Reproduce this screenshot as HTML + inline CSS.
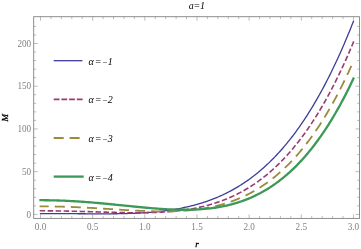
<!DOCTYPE html>
<html><head><meta charset="utf-8"><style>
html,body{margin:0;padding:0;background:#fff;}
body{width:361px;height:249px;overflow:hidden;position:relative;font-family:"Liberation Serif",serif;}
</style></head><body>
<svg width="361" height="249" viewBox="0 0 361 249" style="position:absolute;left:0;top:0;will-change:transform">
<rect x="33.7" y="16.7" width="325.8" height="201.70000000000002" fill="none" stroke="#828282" stroke-width="0.9"/>
<path d="M40.50,218.4v-4.0M40.50,16.7v4.0M50.93,218.4v-2.4M50.93,16.7v2.4M61.36,218.4v-2.4M61.36,16.7v2.4M71.80,218.4v-2.4M71.80,16.7v2.4M82.23,218.4v-2.4M82.23,16.7v2.4M92.66,218.4v-4.0M92.66,16.7v4.0M103.09,218.4v-2.4M103.09,16.7v2.4M113.52,218.4v-2.4M113.52,16.7v2.4M123.95,218.4v-2.4M123.95,16.7v2.4M134.38,218.4v-2.4M134.38,16.7v2.4M144.82,218.4v-4.0M144.82,16.7v4.0M155.25,218.4v-2.4M155.25,16.7v2.4M165.68,218.4v-2.4M165.68,16.7v2.4M176.11,218.4v-2.4M176.11,16.7v2.4M186.54,218.4v-2.4M186.54,16.7v2.4M196.97,218.4v-4.0M196.97,16.7v4.0M207.41,218.4v-2.4M207.41,16.7v2.4M217.84,218.4v-2.4M217.84,16.7v2.4M228.27,218.4v-2.4M228.27,16.7v2.4M238.70,218.4v-2.4M238.70,16.7v2.4M249.13,218.4v-4.0M249.13,16.7v4.0M259.57,218.4v-2.4M259.57,16.7v2.4M270.00,218.4v-2.4M270.00,16.7v2.4M280.43,218.4v-2.4M280.43,16.7v2.4M290.86,218.4v-2.4M290.86,16.7v2.4M301.29,218.4v-4.0M301.29,16.7v4.0M311.72,218.4v-2.4M311.72,16.7v2.4M322.16,218.4v-2.4M322.16,16.7v2.4M332.59,218.4v-2.4M332.59,16.7v2.4M343.02,218.4v-2.4M343.02,16.7v2.4M353.45,218.4v-4.0M353.45,16.7v4.0M33.7,214.40h4.0M359.5,214.40h-4.0M33.7,205.86h2.4M359.5,205.86h-2.4M33.7,197.31h2.4M359.5,197.31h-2.4M33.7,188.77h2.4M359.5,188.77h-2.4M33.7,180.22h2.4M359.5,180.22h-2.4M33.7,171.68h4.0M359.5,171.68h-4.0M33.7,163.13h2.4M359.5,163.13h-2.4M33.7,154.59h2.4M359.5,154.59h-2.4M33.7,146.04h2.4M359.5,146.04h-2.4M33.7,137.50h2.4M359.5,137.50h-2.4M33.7,128.95h4.0M359.5,128.95h-4.0M33.7,120.41h2.4M359.5,120.41h-2.4M33.7,111.86h2.4M359.5,111.86h-2.4M33.7,103.32h2.4M359.5,103.32h-2.4M33.7,94.77h2.4M359.5,94.77h-2.4M33.7,86.22h4.0M359.5,86.22h-4.0M33.7,77.68h2.4M359.5,77.68h-2.4M33.7,69.14h2.4M359.5,69.14h-2.4M33.7,60.59h2.4M359.5,60.59h-2.4M33.7,52.05h2.4M359.5,52.05h-2.4M33.7,43.50h4.0M359.5,43.50h-4.0M33.7,34.96h2.4M359.5,34.96h-2.4M33.7,26.41h2.4M359.5,26.41h-2.4" stroke="#858585" stroke-width="0.55" fill="none"/>
<path d="M39.85,213.55 L40.50,213.55 L41.81,213.55 L43.12,213.55 L44.43,213.55 L45.74,213.55 L47.05,213.55 L48.36,213.56 L49.67,213.56 L50.98,213.56 L52.28,213.57 L53.59,213.57 L54.90,213.58 L56.21,213.58 L57.52,213.59 L58.83,213.60 L60.14,213.60 L61.45,213.61 L62.76,213.62 L64.07,213.63 L65.38,213.63 L66.69,213.64 L68.00,213.65 L69.31,213.66 L70.62,213.67 L71.93,213.68 L73.24,213.69 L74.54,213.70 L75.85,213.71 L77.16,213.72 L78.47,213.73 L79.78,213.74 L81.09,213.75 L82.40,213.75 L83.71,213.76 L85.02,213.77 L86.33,213.78 L87.64,213.79 L88.95,213.79 L90.26,213.80 L91.57,213.81 L92.88,213.81 L94.19,213.82 L95.50,213.82 L96.80,213.83 L98.11,213.83 L99.42,213.83 L100.73,213.83 L102.04,213.83 L103.35,213.83 L104.66,213.83 L105.97,213.82 L107.28,213.82 L108.59,213.81 L109.90,213.80 L111.21,213.79 L112.52,213.78 L113.83,213.76 L115.14,213.75 L116.45,213.73 L117.76,213.71 L119.06,213.69 L120.37,213.67 L121.68,213.64 L122.99,213.61 L124.30,213.58 L125.61,213.55 L126.92,213.51 L128.23,213.47 L129.54,213.43 L130.85,213.38 L132.16,213.34 L133.47,213.29 L134.78,213.23 L136.09,213.17 L137.40,213.11 L138.71,213.05 L140.02,212.98 L141.32,212.90 L142.63,212.83 L143.94,212.75 L145.25,212.66 L146.56,212.57 L147.87,212.48 L149.18,212.38 L150.49,212.28 L151.80,212.17 L153.11,212.06 L154.42,211.94 L155.73,211.81 L157.04,211.69 L158.35,211.55 L159.66,211.41 L160.97,211.27 L162.28,211.11 L163.58,210.96 L164.89,210.79 L166.20,210.62 L167.51,210.45 L168.82,210.26 L170.13,210.07 L171.44,209.87 L172.75,209.67 L174.06,209.46 L175.37,209.24 L176.68,209.01 L177.99,208.78 L179.30,208.54 L180.61,208.29 L181.92,208.03 L183.23,207.76 L184.54,207.49 L185.84,207.20 L187.15,206.91 L188.46,206.61 L189.77,206.30 L191.08,205.98 L192.39,205.65 L193.70,205.31 L195.01,204.96 L196.32,204.60 L197.63,204.23 L198.94,203.85 L200.25,203.46 L201.56,203.05 L202.87,202.64 L204.18,202.22 L205.49,201.78 L206.80,201.33 L208.11,200.87 L209.41,200.40 L210.72,199.92 L212.03,199.42 L213.34,198.92 L214.65,198.40 L215.96,197.86 L217.27,197.32 L218.58,196.75 L219.89,196.18 L221.20,195.59 L222.51,194.99 L223.82,194.38 L225.13,193.75 L226.44,193.10 L227.75,192.44 L229.06,191.77 L230.37,191.08 L231.67,190.37 L232.98,189.65 L234.29,188.91 L235.60,188.16 L236.91,187.39 L238.22,186.60 L239.53,185.80 L240.84,184.98 L242.15,184.14 L243.46,183.28 L244.77,182.41 L246.08,181.52 L247.39,180.61 L248.70,179.68 L250.01,178.73 L251.32,177.77 L252.63,176.78 L253.93,175.78 L255.24,174.75 L256.55,173.71 L257.86,172.64 L259.17,171.56 L260.48,170.45 L261.79,169.32 L263.10,168.18 L264.41,167.01 L265.72,165.81 L267.03,164.60 L268.34,163.36 L269.65,162.11 L270.96,160.82 L272.27,159.52 L273.58,158.19 L274.89,156.84 L276.19,155.46 L277.50,154.06 L278.81,152.64 L280.12,151.19 L281.43,149.72 L282.74,148.22 L284.05,146.69 L285.36,145.14 L286.67,143.56 L287.98,141.96 L289.29,140.33 L290.60,138.67 L291.91,136.99 L293.22,135.28 L294.53,133.54 L295.84,131.77 L297.15,129.97 L298.45,128.15 L299.76,126.29 L301.07,124.41 L302.38,122.49 L303.69,120.55 L305.00,118.58 L306.31,116.57 L307.62,114.53 L308.93,112.47 L310.24,110.37 L311.55,108.24 L312.86,106.08 L314.17,103.88 L315.48,101.65 L316.79,99.39 L318.10,97.10 L319.41,94.77 L320.71,92.41 L322.02,90.01 L323.33,87.58 L324.64,85.11 L325.95,82.61 L327.26,80.07 L328.57,77.50 L329.88,74.89 L331.19,72.24 L332.50,69.56 L333.81,66.84 L335.12,64.08 L336.43,61.28 L337.74,58.44 L339.05,55.57 L340.36,52.65 L341.67,49.70 L342.97,46.71 L344.28,43.67 L345.59,40.60 L346.90,37.48 L348.21,34.33 L349.52,31.13 L350.83,27.89 L352.14,24.61 L353.45,21.28 L353.69,20.68" stroke="#3d3d99" stroke-width="1.3" fill="none"/>
<path d="M39.70,210.81 L40.50,210.81 L41.81,210.81 L43.12,210.81 L44.43,210.82 L45.74,210.82 L47.05,210.83 L48.36,210.84 L49.67,210.85 L50.98,210.86 L52.28,210.87 L53.59,210.88 L54.90,210.90 L56.21,210.91 L57.52,210.93 L58.83,210.95 L60.14,210.97 L61.45,210.99 L62.76,211.01 L64.07,211.03 L65.38,211.06 L66.69,211.08 L68.00,211.11 L69.31,211.14 L70.62,211.17 L71.93,211.20 L73.24,211.23 L74.54,211.26 L75.85,211.29 L77.16,211.32 L78.47,211.36 L79.78,211.39 L81.09,211.43 L82.40,211.46 L83.71,211.50 L85.02,211.54 L86.33,211.58 L87.64,211.62 L88.95,211.65 L90.26,211.69 L91.57,211.73 L92.88,211.77 L94.19,211.81 L95.50,211.85 L96.80,211.89 L98.11,211.93 L99.42,211.97 L100.73,212.01 L102.04,212.05 L103.35,212.09 L104.66,212.13 L105.97,212.17 L107.28,212.21 L108.59,212.25 L109.90,212.28 L111.21,212.32 L112.52,212.35 L113.83,212.39 L115.14,212.42 L116.45,212.45 L117.76,212.48 L119.06,212.51 L120.37,212.54 L121.68,212.57 L122.99,212.60 L124.30,212.62 L125.61,212.64 L126.92,212.66 L128.23,212.68 L129.54,212.70 L130.85,212.71 L132.16,212.72 L133.47,212.73 L134.78,212.74 L136.09,212.74 L137.40,212.74 L138.71,212.74 L140.02,212.74 L141.32,212.73 L142.63,212.72 L143.94,212.71 L145.25,212.69 L146.56,212.67 L147.87,212.65 L149.18,212.62 L150.49,212.59 L151.80,212.55 L153.11,212.51 L154.42,212.47 L155.73,212.42 L157.04,212.37 L158.35,212.31 L159.66,212.25 L160.97,212.18 L162.28,212.11 L163.58,212.03 L164.89,211.95 L166.20,211.86 L167.51,211.76 L168.82,211.66 L170.13,211.56 L171.44,211.45 L172.75,211.33 L174.06,211.20 L175.37,211.07 L176.68,210.93 L177.99,210.79 L179.30,210.63 L180.61,210.48 L181.92,210.31 L183.23,210.13 L184.54,209.95 L185.84,209.76 L187.15,209.56 L188.46,209.36 L189.77,209.14 L191.08,208.92 L192.39,208.69 L193.70,208.45 L195.01,208.20 L196.32,207.94 L197.63,207.67 L198.94,207.39 L200.25,207.10 L201.56,206.80 L202.87,206.49 L204.18,206.18 L205.49,205.85 L206.80,205.51 L208.11,205.15 L209.41,204.79 L210.72,204.42 L212.03,204.03 L213.34,203.63 L214.65,203.23 L215.96,202.80 L217.27,202.37 L218.58,201.92 L219.89,201.46 L221.20,200.99 L222.51,200.51 L223.82,200.01 L225.13,199.49 L226.44,198.97 L227.75,198.43 L229.06,197.87 L230.37,197.30 L231.67,196.72 L232.98,196.12 L234.29,195.51 L235.60,194.88 L236.91,194.23 L238.22,193.57 L239.53,192.89 L240.84,192.20 L242.15,191.49 L243.46,190.76 L244.77,190.02 L246.08,189.26 L247.39,188.48 L248.70,187.68 L250.01,186.87 L251.32,186.03 L252.63,185.18 L253.93,184.31 L255.24,183.42 L256.55,182.51 L257.86,181.58 L259.17,180.64 L260.48,179.67 L261.79,178.68 L263.10,177.67 L264.41,176.64 L265.72,175.59 L267.03,174.52 L268.34,173.43 L269.65,172.31 L270.96,171.17 L272.27,170.01 L273.58,168.83 L274.89,167.63 L276.19,166.40 L277.50,165.15 L278.81,163.87 L280.12,162.57 L281.43,161.25 L282.74,159.90 L284.05,158.52 L285.36,157.13 L286.67,155.70 L287.98,154.25 L289.29,152.77 L290.60,151.27 L291.91,149.74 L293.22,148.19 L294.53,146.60 L295.84,144.99 L297.15,143.35 L298.45,141.69 L299.76,139.99 L301.07,138.27 L302.38,136.52 L303.69,134.73 L305.00,132.92 L306.31,131.08 L307.62,129.21 L308.93,127.31 L310.24,125.37 L311.55,123.41 L312.86,121.41 L314.17,119.38 L315.48,117.32 L316.79,115.23 L318.10,113.11 L319.41,110.95 L320.71,108.76 L322.02,106.53 L323.33,104.27 L324.64,101.98 L325.95,99.65 L327.26,97.28 L328.57,94.88 L329.88,92.45 L331.19,89.98 L332.50,87.47 L333.81,84.92 L335.12,82.34 L336.43,79.72 L337.74,77.07 L339.05,74.37 L340.36,71.64 L341.67,68.86 L342.97,66.05 L344.28,63.20 L345.59,60.31 L346.90,57.38 L348.21,54.40 L349.52,51.39 L350.83,48.33 L352.14,45.24 L353.45,42.10 L353.76,41.36" stroke="#993d71" stroke-width="1.6" fill="none" stroke-dasharray="5.5 2.48" stroke-dashoffset="0"/>
<path d="M39.60,206.37 L40.50,206.37 L41.81,206.37 L43.12,206.37 L44.43,206.38 L45.74,206.39 L47.05,206.40 L48.36,206.41 L49.67,206.42 L50.98,206.44 L52.28,206.46 L53.59,206.48 L54.90,206.50 L56.21,206.53 L57.52,206.56 L58.83,206.59 L60.14,206.62 L61.45,206.65 L62.76,206.69 L64.07,206.73 L65.38,206.77 L66.69,206.81 L68.00,206.86 L69.31,206.90 L70.62,206.95 L71.93,207.00 L73.24,207.05 L74.54,207.11 L75.85,207.16 L77.16,207.22 L78.47,207.28 L79.78,207.34 L81.09,207.40 L82.40,207.47 L83.71,207.53 L85.02,207.60 L86.33,207.67 L87.64,207.73 L88.95,207.81 L90.26,207.88 L91.57,207.95 L92.88,208.02 L94.19,208.10 L95.50,208.18 L96.80,208.25 L98.11,208.33 L99.42,208.41 L100.73,208.49 L102.04,208.57 L103.35,208.65 L104.66,208.73 L105.97,208.81 L107.28,208.89 L108.59,208.97 L109.90,209.06 L111.21,209.14 L112.52,209.22 L113.83,209.30 L115.14,209.39 L116.45,209.47 L117.76,209.55 L119.06,209.63 L120.37,209.71 L121.68,209.79 L122.99,209.87 L124.30,209.95 L125.61,210.03 L126.92,210.10 L128.23,210.18 L129.54,210.25 L130.85,210.33 L132.16,210.40 L133.47,210.47 L134.78,210.54 L136.09,210.60 L137.40,210.67 L138.71,210.73 L140.02,210.79 L141.32,210.85 L142.63,210.91 L143.94,210.96 L145.25,211.01 L146.56,211.06 L147.87,211.11 L149.18,211.15 L150.49,211.19 L151.80,211.23 L153.11,211.26 L154.42,211.29 L155.73,211.32 L157.04,211.34 L158.35,211.36 L159.66,211.38 L160.97,211.39 L162.28,211.39 L163.58,211.40 L164.89,211.39 L166.20,211.39 L167.51,211.37 L168.82,211.36 L170.13,211.34 L171.44,211.31 L172.75,211.28 L174.06,211.24 L175.37,211.19 L176.68,211.14 L177.99,211.09 L179.30,211.02 L180.61,210.96 L181.92,210.88 L183.23,210.80 L184.54,210.71 L185.84,210.61 L187.15,210.51 L188.46,210.40 L189.77,210.28 L191.08,210.15 L192.39,210.02 L193.70,209.88 L195.01,209.73 L196.32,209.57 L197.63,209.40 L198.94,209.22 L200.25,209.04 L201.56,208.84 L202.87,208.64 L204.18,208.43 L205.49,208.20 L206.80,207.97 L208.11,207.72 L209.41,207.47 L210.72,207.21 L212.03,206.93 L213.34,206.64 L214.65,206.35 L215.96,206.04 L217.27,205.72 L218.58,205.38 L219.89,205.04 L221.20,204.68 L222.51,204.31 L223.82,203.93 L225.13,203.54 L226.44,203.13 L227.75,202.71 L229.06,202.27 L230.37,201.82 L231.67,201.36 L232.98,200.88 L234.29,200.39 L235.60,199.89 L236.91,199.37 L238.22,198.83 L239.53,198.28 L240.84,197.71 L242.15,197.13 L243.46,196.53 L244.77,195.92 L246.08,195.29 L247.39,194.64 L248.70,193.97 L250.01,193.29 L251.32,192.59 L252.63,191.87 L253.93,191.14 L255.24,190.38 L256.55,189.61 L257.86,188.82 L259.17,188.01 L260.48,187.18 L261.79,186.33 L263.10,185.46 L264.41,184.57 L265.72,183.66 L267.03,182.73 L268.34,181.78 L269.65,180.81 L270.96,179.82 L272.27,178.80 L273.58,177.77 L274.89,176.71 L276.19,175.62 L277.50,174.52 L278.81,173.39 L280.12,172.24 L281.43,171.07 L282.74,169.87 L284.05,168.65 L285.36,167.40 L286.67,166.13 L287.98,164.83 L289.29,163.51 L290.60,162.16 L291.91,160.79 L293.22,159.39 L294.53,157.96 L295.84,156.51 L297.15,155.03 L298.45,153.52 L299.76,151.99 L301.07,150.42 L302.38,148.83 L303.69,147.21 L305.00,145.56 L306.31,143.88 L307.62,142.17 L308.93,140.44 L310.24,138.67 L311.55,136.87 L312.86,135.04 L314.17,133.18 L315.48,131.29 L316.79,129.36 L318.10,127.41 L319.41,125.42 L320.71,123.40 L322.02,121.34 L323.33,119.25 L324.64,117.13 L325.95,114.97 L327.26,112.78 L328.57,110.56 L329.88,108.30 L331.19,106.00 L332.50,103.67 L333.81,101.30 L335.12,98.90 L336.43,96.46 L337.74,93.98 L339.05,91.46 L340.36,88.91 L341.67,86.32 L342.97,83.69 L344.28,81.02 L345.59,78.31 L346.90,75.56 L348.21,72.77 L349.52,69.94 L350.83,67.07 L352.14,64.16 L353.45,61.21 L353.81,60.38" stroke="#998c3d" stroke-width="1.8" fill="none" stroke-dasharray="10 6.09" stroke-dashoffset="0.9"/>
<path d="M39.35,200.22 L40.50,200.22 L41.81,200.22 L43.12,200.22 L44.43,200.23 L45.74,200.24 L47.05,200.25 L48.36,200.27 L49.67,200.29 L50.98,200.32 L52.28,200.34 L53.59,200.37 L54.90,200.40 L56.21,200.44 L57.52,200.48 L58.83,200.52 L60.14,200.57 L61.45,200.61 L62.76,200.66 L64.07,200.72 L65.38,200.77 L66.69,200.83 L68.00,200.90 L69.31,200.96 L70.62,201.03 L71.93,201.10 L73.24,201.17 L74.54,201.25 L75.85,201.33 L77.16,201.41 L78.47,201.49 L79.78,201.58 L81.09,201.67 L82.40,201.76 L83.71,201.85 L85.02,201.95 L86.33,202.04 L87.64,202.14 L88.95,202.25 L90.26,202.35 L91.57,202.46 L92.88,202.57 L94.19,202.68 L95.50,202.79 L96.80,202.90 L98.11,203.02 L99.42,203.13 L100.73,203.25 L102.04,203.37 L103.35,203.49 L104.66,203.62 L105.97,203.74 L107.28,203.87 L108.59,203.99 L109.90,204.12 L111.21,204.25 L112.52,204.38 L113.83,204.51 L115.14,204.64 L116.45,204.77 L117.76,204.90 L119.06,205.04 L120.37,205.17 L121.68,205.30 L122.99,205.44 L124.30,205.57 L125.61,205.70 L126.92,205.84 L128.23,205.97 L129.54,206.10 L130.85,206.23 L132.16,206.37 L133.47,206.50 L134.78,206.63 L136.09,206.76 L137.40,206.88 L138.71,207.01 L140.02,207.14 L141.32,207.26 L142.63,207.38 L143.94,207.51 L145.25,207.63 L146.56,207.74 L147.87,207.86 L149.18,207.97 L150.49,208.09 L151.80,208.20 L153.11,208.30 L154.42,208.41 L155.73,208.51 L157.04,208.61 L158.35,208.70 L159.66,208.79 L160.97,208.88 L162.28,208.97 L163.58,209.05 L164.89,209.13 L166.20,209.20 L167.51,209.28 L168.82,209.34 L170.13,209.40 L171.44,209.46 L172.75,209.51 L174.06,209.56 L175.37,209.61 L176.68,209.64 L177.99,209.68 L179.30,209.70 L180.61,209.73 L181.92,209.74 L183.23,209.75 L184.54,209.76 L185.84,209.75 L187.15,209.75 L188.46,209.73 L189.77,209.71 L191.08,209.68 L192.39,209.64 L193.70,209.60 L195.01,209.55 L196.32,209.49 L197.63,209.42 L198.94,209.35 L200.25,209.27 L201.56,209.18 L202.87,209.08 L204.18,208.97 L205.49,208.85 L206.80,208.72 L208.11,208.59 L209.41,208.44 L210.72,208.28 L212.03,208.12 L213.34,207.94 L214.65,207.76 L215.96,207.56 L217.27,207.35 L218.58,207.13 L219.89,206.90 L221.20,206.66 L222.51,206.41 L223.82,206.14 L225.13,205.87 L226.44,205.58 L227.75,205.28 L229.06,204.96 L230.37,204.63 L231.67,204.29 L232.98,203.94 L234.29,203.57 L235.60,203.19 L236.91,202.79 L238.22,202.38 L239.53,201.96 L240.84,201.52 L242.15,201.06 L243.46,200.59 L244.77,200.11 L246.08,199.61 L247.39,199.09 L248.70,198.56 L250.01,198.01 L251.32,197.44 L252.63,196.85 L253.93,196.25 L255.24,195.63 L256.55,195.00 L257.86,194.34 L259.17,193.67 L260.48,192.98 L261.79,192.27 L263.10,191.54 L264.41,190.79 L265.72,190.02 L267.03,189.24 L268.34,188.43 L269.65,187.60 L270.96,186.75 L272.27,185.88 L273.58,184.99 L274.89,184.08 L276.19,183.14 L277.50,182.18 L278.81,181.21 L280.12,180.20 L281.43,179.18 L282.74,178.13 L284.05,177.06 L285.36,175.97 L286.67,174.85 L287.98,173.70 L289.29,172.54 L290.60,171.34 L291.91,170.12 L293.22,168.88 L294.53,167.61 L295.84,166.32 L297.15,164.99 L298.45,163.65 L299.76,162.27 L301.07,160.87 L302.38,159.44 L303.69,157.98 L305.00,156.49 L306.31,154.97 L307.62,153.43 L308.93,151.86 L310.24,150.25 L311.55,148.62 L312.86,146.96 L314.17,145.26 L315.48,143.54 L316.79,141.78 L318.10,140.00 L319.41,138.18 L320.71,136.33 L322.02,134.44 L323.33,132.53 L324.64,130.58 L325.95,128.59 L327.26,126.58 L328.57,124.53 L329.88,122.44 L331.19,120.32 L332.50,118.16 L333.81,115.97 L335.12,113.75 L336.43,111.48 L337.74,109.18 L339.05,106.85 L340.36,104.47 L341.67,102.06 L342.97,99.61 L344.28,97.12 L345.59,94.60 L346.90,92.03 L348.21,89.43 L349.52,86.78 L350.83,84.10 L352.14,81.37 L353.45,78.60 L353.94,77.57" stroke="#3d9957" stroke-width="2.3" fill="none"/>
<path d="M53.7,60.7H82.4" stroke="#3d3d99" stroke-width="1.3"/>
<path d="M53.7,99.4H83" stroke="#993d71" stroke-width="1.6" stroke-dasharray="5.8 1.9"/>
<path d="M53.7,138H83.7" stroke="#998c3d" stroke-width="1.8" stroke-dasharray="10 5.9"/>
<path d="M53.7,176.6H83.7" stroke="#3d9957" stroke-width="2.3"/>
<text transform="translate(40.50,229.8) scale(1,1.08)" font-family="Liberation Serif, serif" font-size="9.2" fill="#808080" text-anchor="middle">0.0</text>
<text transform="translate(92.66,229.8) scale(1,1.08)" font-family="Liberation Serif, serif" font-size="9.2" fill="#808080" text-anchor="middle">0.5</text>
<text transform="translate(144.82,229.8) scale(1,1.08)" font-family="Liberation Serif, serif" font-size="9.2" fill="#808080" text-anchor="middle">1.0</text>
<text transform="translate(196.97,229.8) scale(1,1.08)" font-family="Liberation Serif, serif" font-size="9.2" fill="#808080" text-anchor="middle">1.5</text>
<text transform="translate(249.13,229.8) scale(1,1.08)" font-family="Liberation Serif, serif" font-size="9.2" fill="#808080" text-anchor="middle">2.0</text>
<text transform="translate(301.29,229.8) scale(1,1.08)" font-family="Liberation Serif, serif" font-size="9.2" fill="#808080" text-anchor="middle">2.5</text>
<text transform="translate(353.45,229.8) scale(1,1.08)" font-family="Liberation Serif, serif" font-size="9.2" fill="#808080" text-anchor="middle">3.0</text>
<text transform="translate(31.2,217.60) scale(1,1.08)" font-family="Liberation Serif, serif" font-size="9.2" fill="#808080" text-anchor="end">0</text>
<text transform="translate(31.2,174.88) scale(1,1.08)" font-family="Liberation Serif, serif" font-size="9.2" fill="#808080" text-anchor="end">50</text>
<text transform="translate(31.2,132.15) scale(1,1.08)" font-family="Liberation Serif, serif" font-size="9.2" fill="#808080" text-anchor="end">100</text>
<text transform="translate(31.2,89.42) scale(1,1.08)" font-family="Liberation Serif, serif" font-size="9.2" fill="#808080" text-anchor="end">150</text>
<text transform="translate(31.2,46.70) scale(1,1.08)" font-family="Liberation Serif, serif" font-size="9.2" fill="#808080" text-anchor="end">200</text>
<text y="64.6" font-family="Liberation Serif, serif" font-size="10" font-style="italic" fill="#000"><tspan x="88.4 94.8">α=</tspan><tspan x="102.1" font-size="8.6">−</tspan><tspan x="107.7">1</tspan></text>
<text y="103.3" font-family="Liberation Serif, serif" font-size="10" font-style="italic" fill="#000"><tspan x="88.4 94.8">α=</tspan><tspan x="102.1" font-size="8.6">−</tspan><tspan x="107.7">2</tspan></text>
<text y="141.9" font-family="Liberation Serif, serif" font-size="10" font-style="italic" fill="#000"><tspan x="88.4 94.8">α=</tspan><tspan x="102.1" font-size="8.6">−</tspan><tspan x="107.7">3</tspan></text>
<text y="180.5" font-family="Liberation Serif, serif" font-size="10" font-style="italic" fill="#000"><tspan x="88.4 94.8">α=</tspan><tspan x="102.1" font-size="8.6">−</tspan><tspan x="107.7">4</tspan></text>
<text x="188.8 193.4 199.9" y="8.8" font-family="Liberation Serif, serif" font-size="10" font-style="italic" fill="#000">a=1</text>
<text x="197.1" y="247" font-family="Liberation Serif, serif" font-size="9" font-style="italic" stroke="#000" stroke-width="0.3" fill="#000" text-anchor="middle">r</text>
<text transform="translate(8.0,117.8) rotate(-90)" font-family="Liberation Serif, serif" font-size="9" font-style="italic" stroke="#000" stroke-width="0.3" fill="#000" text-anchor="middle">M</text>
</svg>
</body></html>
